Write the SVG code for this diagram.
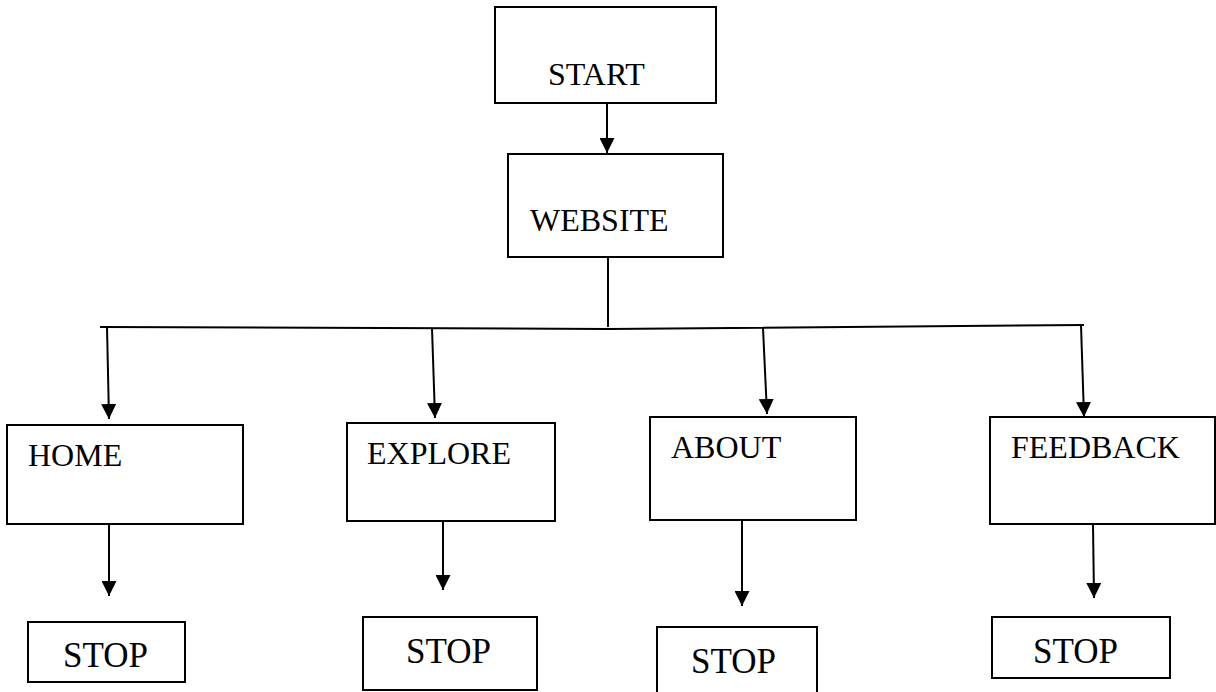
<svg xmlns="http://www.w3.org/2000/svg" width="1216" height="692" viewBox="0 0 1216 692">
<style>
.box{fill:#fff;stroke:#000;stroke-width:2}
.lbl{font-family:"Liberation Serif","Times New Roman",serif;font-size:32px;fill:#000}
.stop{font-family:"Liberation Serif","Times New Roman",serif;font-size:35px;fill:#000}
.ln{fill:none;stroke:#000;stroke-width:2}
</style>
<defs>
<marker id="arr" markerWidth="15" markerHeight="15" refX="15" refY="7.5" orient="auto" markerUnits="userSpaceOnUse" viewBox="0 0 15 15">
<path d="M0,0 L15,7.5 L0,15 Z" fill="#000"/>
</marker>
</defs>
<rect width="1216" height="692" fill="#fff"/>
<g id="connectors">
<line class="ln" x1="607" y1="103" x2="607" y2="153" marker-end="url(#arr)"/>
<line class="ln" x1="608" y1="257" x2="608" y2="327"/>
<polyline class="ln" points="100,327 608,329 1084,325"/>
<line class="ln" x1="107" y1="327" x2="109" y2="419" marker-end="url(#arr)"/>
<line class="ln" x1="432" y1="328" x2="435" y2="418" marker-end="url(#arr)"/>
<line class="ln" x1="763" y1="328" x2="767" y2="414" marker-end="url(#arr)"/>
<line class="ln" x1="1081" y1="325" x2="1084" y2="417" marker-end="url(#arr)"/>
<line class="ln" x1="109" y1="524" x2="109" y2="596" marker-end="url(#arr)"/>
<line class="ln" x1="443" y1="521" x2="443" y2="590" marker-end="url(#arr)"/>
<line class="ln" x1="742" y1="520" x2="742" y2="606" marker-end="url(#arr)"/>
<line class="ln" x1="1093" y1="524" x2="1094" y2="598" marker-end="url(#arr)"/>
</g>
<g id="start"><rect class="box" x="495" y="7" width="221" height="96"/><text class="lbl" x="548" y="85">START</text></g>
<g id="website"><rect class="box" x="508" y="154" width="215" height="103"/><text class="lbl" x="530" y="231">WEBSITE</text></g>
<g id="home"><rect class="box" x="7" y="425" width="236" height="99"/><text class="lbl" x="28" y="466">HOME</text></g>
<g id="explore"><rect class="box" x="347" y="423" width="208" height="98"/><text class="lbl" x="367" y="464">EXPLORE</text></g>
<g id="about"><rect class="box" x="650" y="417" width="206" height="103"/><text class="lbl" x="671" y="458">ABOUT</text></g>
<g id="feedback"><rect class="box" x="990" y="417" width="225" height="107"/><text class="lbl" x="1011" y="458">FEEDBACK</text></g>
<g id="stop1"><rect class="box" x="28" y="622" width="157" height="60"/><text class="stop" x="63" y="667">STOP</text></g>
<g id="stop2"><rect class="box" x="363" y="617" width="174" height="73"/><text class="stop" x="406" y="663">STOP</text></g>
<g id="stop3"><path class="ln" d="M657,700 V627 H817 V700"/><text class="stop" x="691" y="673">STOP</text></g>
<g id="stop4"><rect class="box" x="992" y="617" width="178" height="61"/><text class="stop" x="1033" y="663">STOP</text></g>
</svg>
